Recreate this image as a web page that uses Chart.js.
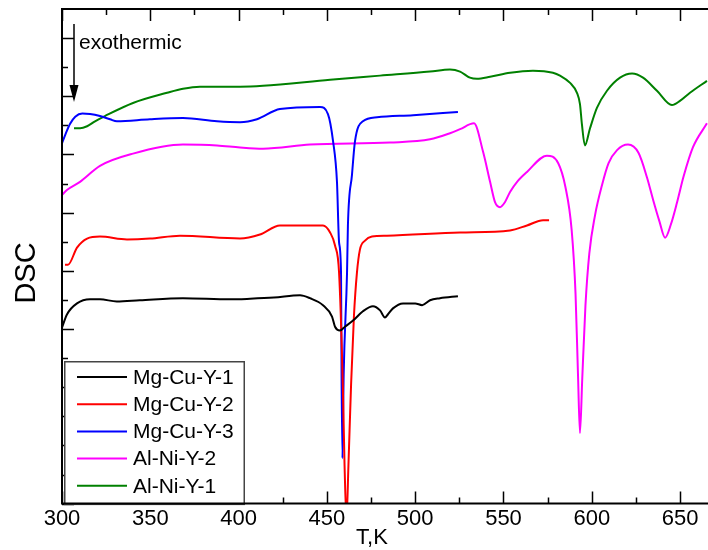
<!DOCTYPE html>
<html>
<head>
<meta charset="utf-8">
<script src="https://cdn.jsdelivr.net/npm/chart.js@4.4.0/dist/chart.umd.min.js"></script>
<style>
  html, body { margin: 0; padding: 0; background: #fff; }
  canvas { display: block; }
</style>
</head>
<body>
<canvas id="dsc" width="708" height="550"></canvas>
<script>
// DSC heating curves of Mg-Cu-Y and Al-Ni-Y alloys (offset, arbitrary units)
const FONT = '"Liberation Sans", Arial, Helvetica, sans-serif';

const seriesNames  = ['Mg-Cu-Y-1', 'Mg-Cu-Y-2', 'Mg-Cu-Y-3', 'Al-Ni-Y-2', 'Al-Ni-Y-1'];
const seriesColors = ['#000000', '#ff0000', '#0000ff', '#ff00ff', '#008000'];
const xTickLabels  = [300, 350, 400, 450, 500, 550, 600, 650];

// Mg-Cu-Y-1
const mgCuY1T   = [300, 302.8, 308.5, 315.9, 321.5, 331, 344, 368.5, 395, 406.5, 420, 434.8, 440.4, 447.8, 452.9, 454.6, 457.4, 460.2, 464.8, 470.4, 476.1, 480.1, 482.9, 484.5, 487.4, 493.1, 500, 503.9, 508.4, 514, 524.2];
const mgCuY1Dsc = [6.05, 6.50, 6.88, 7.02, 7.02, 6.95, 6.99, 7.06, 7.02, 7.04, 7.08, 7.16, 7.06, 6.82, 6.43, 6.08, 5.95, 6.08, 6.29, 6.61, 6.78, 6.64, 6.40, 6.50, 6.71, 6.88, 6.88, 6.82, 6.99, 7.06, 7.13];

// Mg-Cu-Y-2
const mgCuY2T   = [301.7, 303.4, 308.5, 314.2, 321.5, 336.8, 349.8, 366.8, 400.8, 412.1, 423.4, 447.8, 451.8, 454.6, 456.9, 459.0, 460.0, 461.1, 462.2, 463.7, 465.3, 467.0, 468.7, 471.6, 475.5, 484, 525.4, 553.7, 563.3, 572.4, 575.8];
const mgCuY2Dsc = [8.21, 8.21, 8.80, 9.11, 9.18, 9.08, 9.11, 9.21, 9.11, 9.25, 9.56, 9.56, 9.32, 8.87, 7.93, 4.10, 1.32, -0.55, 1.32, 4.10, 6.43, 7.93, 8.73, 9.04, 9.18, 9.21, 9.32, 9.39, 9.56, 9.74, 9.74];

// Mg-Cu-Y-3
const mgCuY3T   = [300, 302.0, 304.5, 307.5, 311.5, 315.9, 321.5, 327.2, 331.1, 349.8, 368.5, 387.8, 400.8, 410.4, 423.4, 446.1, 450.6, 453.5, 455.7, 456.9, 458.0, 458.3, 458.8, 459.5, 461.4, 461.9, 464.2, 465.9, 470.4, 478.4, 498.8, 524.2];
const mgCuY3Dsc = [12.38, 12.70, 13.05, 13.30, 13.41, 13.39, 13.32, 13.21, 13.14, 13.21, 13.25, 13.14, 13.11, 13.21, 13.56, 13.63, 13.39, 12.45, 11.06, 8.97, 7.93, 4.45, 1.56, 4.45, 7.93, 9.56, 11.30, 12.45, 13.14, 13.28, 13.35, 13.46];

// Al-Ni-Y-2
const alNiY2T   = [300, 302.8, 310.2, 321.5, 340.2, 368.5, 387.8, 400.8, 413.8, 440.4, 485.7, 508.4, 519.7, 525.4, 533.3, 538.4, 542.4, 545.2, 548, 550.8, 553.7, 557.7, 563.3, 574.6, 581, 585, 588.6, 590.8, 592.2, 593.3, 594.6, 596.4, 598.6, 601.8, 605.8, 609.5, 614.3, 620.5, 626.5, 631.3, 634.9, 638.3, 641.5, 644.8, 648.3, 652.0, 657.3, 665.2];
const alNiY2Dsc = [10.61, 10.78, 11.06, 11.61, 12.03, 12.34, 12.31, 12.24, 12.20, 12.34, 12.41, 12.52, 12.73, 12.87, 13.07, 12.10, 11.06, 10.36, 10.19, 10.36, 10.71, 11.06, 11.40, 11.96, 11.70, 10.90, 9.40, 7.20, 4.40, 2.43, 4.30, 6.80, 8.60, 9.90, 10.95, 11.70, 12.15, 12.34, 12.05, 11.20, 10.40, 9.70, 9.14, 9.60, 10.36, 11.25, 12.25, 13.07];

// Al-Ni-Y-1
const alNiY1T   = [306.8, 310.2, 314.2, 318.7, 324.3, 340.2, 359.5, 368.5, 378.1, 400.8, 413.8, 451.8, 480.1, 508.4, 519.7, 525.4, 531, 535, 542.4, 553.7, 566.7, 578, 582, 587.7, 591.6, 593.3, 594.4, 596.1, 599, 602.9, 608.6, 616, 622.8, 629, 636.9, 645.4, 649.9, 655.6, 665.2];
const alNiY1Dsc = [12.90, 12.90, 12.97, 13.14, 13.32, 13.77, 14.12, 14.26, 14.33, 14.33, 14.36, 14.57, 14.71, 14.85, 14.92, 14.85, 14.64, 14.60, 14.67, 14.81, 14.88, 14.81, 14.71, 14.46, 14.12, 13.73, 13.04, 12.31, 12.90, 13.60, 14.19, 14.64, 14.78, 14.64, 14.19, 13.70, 13.84, 14.12, 14.53];

const seriesT   = [mgCuY1T, mgCuY2T, mgCuY3T, alNiY2T, alNiY1T];
const seriesDsc = [mgCuY1Dsc, mgCuY2Dsc, mgCuY3Dsc, alNiY2Dsc, alNiY1Dsc];

const datasets = seriesNames.map((name, i) => ({
  label: name,
  data: seriesT[i].map((t, k) => ({ x: t, y: seriesDsc[i][k] })),
  borderColor: seriesColors[i],
  backgroundColor: seriesColors[i],
  borderWidth: 2,
  pointRadius: 0,
  fill: false,
  cubicInterpolationMode: 'monotone'
}));

// Frame, inward ticks, legend box, annotation and axis titles
const decorations = {
  id: 'decorations',
  afterDatasetsDraw(chart) {
    const { ctx, chartArea: a, scales: { x, y } } = chart;
    ctx.save();

    // inward ticks: major/minor on bottom, top and left
    ctx.strokeStyle = '#000';
    ctx.lineWidth = 1.5;
    ctx.beginPath();
    for (let v = xTickLabels[0]; v <= x.max; v += 25) {
      const px = Math.round(x.getPixelForValue(v)) + 0.5;
      const len = (v % 50 === 0) ? 12 : 6;
      ctx.moveTo(px, a.top); ctx.lineTo(px, a.top + len);
      ctx.moveTo(px, a.bottom); ctx.lineTo(px, a.bottom - len);
    }
    for (let v = 0; v < y.max; v += 1) {
      const py = Math.round(y.getPixelForValue(v)) + 0.5;
      const len = (v % 2 === 0) ? 12 : 6;
      ctx.moveTo(a.left, py); ctx.lineTo(a.left + len, py);
    }
    ctx.stroke();

    // legend box
    const bx = a.left + 2, by = 361, bw = 245 - bx, bh = a.bottom - by;
    ctx.fillStyle = '#fff';
    ctx.fillRect(bx, by, bw, bh);
    ctx.strokeStyle = '#444';
    ctx.lineWidth = 1.5;
    ctx.strokeRect(bx + 0.75, by + 0.75, bw - 1.5, bh);
    ctx.font = '21px ' + FONT;
    ctx.textBaseline = 'middle';
    ctx.textAlign = 'left';
    chart.data.datasets.forEach((ds, i) => {
      const ry = 377 + i * 27.2;
      ctx.strokeStyle = ds.borderColor;
      ctx.lineWidth = 2;
      ctx.beginPath();
      ctx.moveTo(77, ry); ctx.lineTo(127, ry);
      ctx.stroke();
      ctx.fillStyle = '#000';
      ctx.fillText(ds.label, 133, ry + 1);
    });

    // frame: left, top and bottom axis lines
    ctx.strokeStyle = '#000';
    ctx.lineWidth = 2;
    ctx.beginPath();
    ctx.moveTo(a.right + 2, a.top);
    ctx.lineTo(a.left, a.top);
    ctx.lineTo(a.left, a.bottom);
    ctx.lineTo(a.right + 2, a.bottom);
    ctx.stroke();

    // exothermic direction arrow
    ctx.lineWidth = 1.5;
    ctx.beginPath();
    ctx.moveTo(74, 24); ctx.lineTo(74, 88);
    ctx.stroke();
    ctx.fillStyle = '#000';
    ctx.beginPath();
    ctx.moveTo(69.5, 85); ctx.lineTo(78.5, 85); ctx.lineTo(74, 102);
    ctx.closePath();
    ctx.fill();
    ctx.font = '21px ' + FONT;
    ctx.textBaseline = 'alphabetic';
    ctx.textAlign = 'left';
    ctx.fillText('exothermic', 79, 49);

    // axis titles
    ctx.font = '22px ' + FONT;
    ctx.textAlign = 'center';
    ctx.fillText('T,K', 372, 544);
    ctx.save();
    ctx.translate(26, 273);
    ctx.rotate(-Math.PI / 2);
    ctx.font = '29px ' + FONT;
    ctx.textBaseline = 'middle';
    ctx.fillText('DSC', 0, 1);
    ctx.restore();

    ctx.restore();
  }
};

new Chart(document.getElementById('dsc'), {
  type: 'line',
  data: { datasets },
  options: {
    responsive: false,
    animation: false,
    devicePixelRatio: 1,
    layout: { padding: { left: 62, right: 0, top: 9, bottom: 16 } },
    plugins: { legend: { display: false }, tooltip: { enabled: false } },
    scales: {
      x: {
        type: 'linear',
        min: 300,
        max: 665.8,
        grid: { display: false, drawTicks: false },
        border: { display: false },
        afterBuildTicks(scale) {
          scale.ticks = xTickLabels.map(v => ({ value: v }));
        },
        ticks: {
          autoSkip: false,
          maxRotation: 0,
          padding: 2,
          color: '#000',
          font: { family: FONT, size: 22 },
          callback: v => String(v)
        }
      },
      y: { type: 'linear', display: false, min: 0, max: 17 }
    }
  },
  plugins: [decorations]
});
</script>
</body>
</html>
